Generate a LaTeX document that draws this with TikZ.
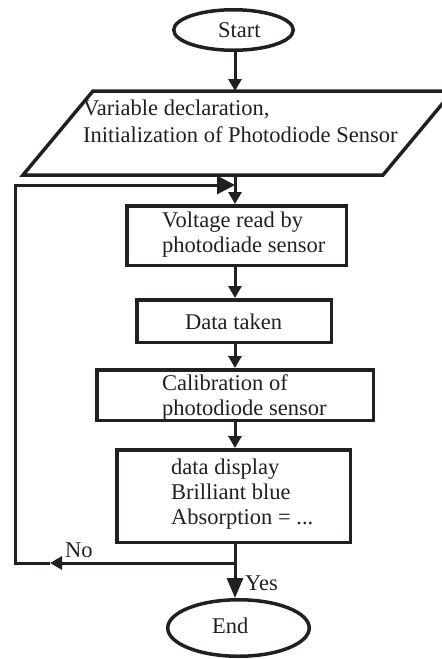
\documentclass[tikz,border=0pt]{standalone}
\usepackage{fontspec}
\setmainfont{Liberation Serif}
\usetikzlibrary{shapes.geometric,arrows.meta,calc}
\definecolor{ink}{RGB}{35,31,32}
\begin{document}
\begin{tikzpicture}[x=1pt,y=-1pt,
  shape line/.style={draw=ink,line width=3.5pt},
  oval/.style={shape line,ellipse,inner sep=0pt},
  stepbox/.style={shape line,rectangle,inner sep=0pt},
  label text/.style={text=ink,inner sep=0pt,anchor=west,align=left,
    font=\fontsize{22.5}{25}\selectfont},
  link/.style={draw=ink,line width=3pt,line join=miter},
  tip/.style={link,-{Triangle[length=12pt,width=13pt]}},
  bigtip/.style={link,-{Triangle[length=18pt,width=18pt]}},
  yestip/.style={link,-{Triangle[length=20pt,width=16pt]}},
]
\useasboundingbox (0,0) rectangle (442,659);
\coordinate (ax) at (235,0);

% terminals
\node[oval,minimum width=119.5pt,minimum height=40.5pt] (start) at (233.5,30) {};
\node[label text] (startT) at (218,30) {Start};
\node[oval,minimum width=141.5pt,minimum height=56.5pt] (end) at (238.5,628) {};
\node[label text] (endT) at (212,626) {End};

% input parallelogram
\coordinate (p1) at (93,91);
\coordinate (p2) at (453,91);
\coordinate (p3) at (383,175);
\coordinate (p4) at (23,175);
\draw[shape line] (p1) -- (p2) -- (p3) -- (p4) -- cycle;
\node[label text,font=\fontsize{22.5}{27}\selectfont] (declT) at (83,121)
  {Variable declaration,\\Initialization of Photodiode Sensor};

% process boxes
\node[stepbox,minimum width=219.5pt,minimum height=59.5pt] (b1) at (236.5,235.5) {};
\node[label text] (b1T) at (162,234.5) {Voltage read by\\photodiade sensor};
\node[stepbox,minimum width=194.5pt,minimum height=42.5pt] (b2) at (234,321) {};
\node[label text] (b2T) at (185,322) {Data taken};
\node[stepbox,minimum width=276.5pt,minimum height=50.5pt] (b3) at (235,395) {};
\node[label text] (b3T) at (162,397.5) {Calibration of\\photodiode sensor};
\node[stepbox,minimum width=233.5pt,minimum height=92.5pt] (b4) at (233.5,496) {};
\node[label text] (b4T) at (171,494) {data display\\Brilliant blue\\Absorption = ...};

% branch labels
\node[label text] (noT) at (65,550) {No};
\node[label text] (yesT) at (245,583) {Yes};

% main flow
\draw[tip] (start.south -| ax) -- (ax |- p1);
\draw[tip] (ax |- p4) -- (b1.north -| ax);
\draw[tip] (b1.south -| ax) -- (b2.north -| ax);
\draw[tip] (b2.south -| ax) -- (b3.north -| ax);
\draw[tip] (b3.south -| ax) -- (b4.north -| ax);
\draw[yestip] (b4.south -| ax) -- (end.north -| ax);

% loop back on "No"
\coordinate (j) at (235,563);
\coordinate (nohead) at (50,563);
\coordinate (bl) at (15,563);
\coordinate (tl) at (15,185);
\coordinate (m) at (235,185);
\draw[tip] (j) -- (nohead);
\draw[bigtip] (nohead) -- (bl) -- (tl) -- (m);
\end{tikzpicture}
\end{document}
